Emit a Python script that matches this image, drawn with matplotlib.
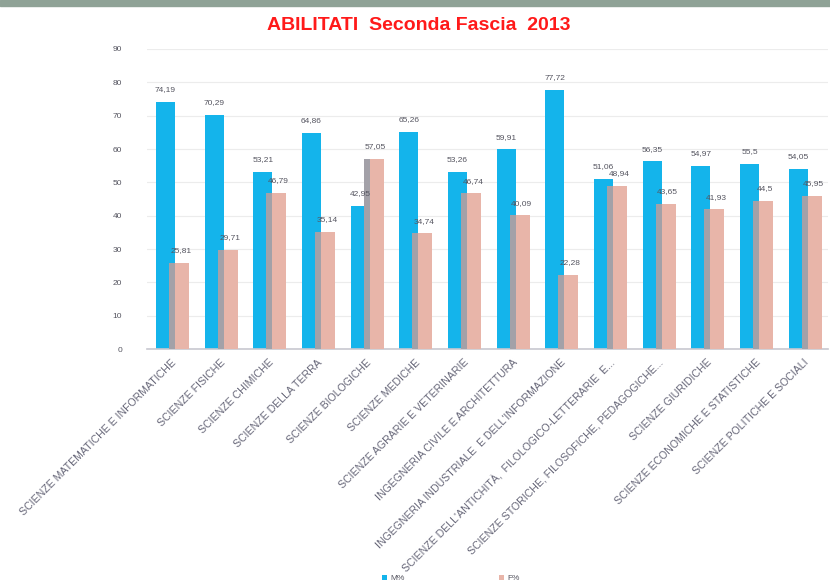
import matplotlib.pyplot as plt
import numpy as np
from matplotlib.patches import Rectangle

categories = [
    "SCIENZE MATEMATICHE E INFORMATICHE",
    "SCIENZE FISICHE",
    "SCIENZE CHIMICHE",
    "SCIENZE DELLA TERRA",
    "SCIENZE BIOLOGICHE",
    "SCIENZE MEDICHE",
    "SCIENZE AGRARIE E VETERINARIE",
    "INGEGNERIA CIVILE E ARCHITETTURA",
    "INGEGNERIA INDUSTRIALE  E DELL'INFORMAZIONE",
    "SCIENZE DELL'ANTICHITÀ,  FILOLOGICO-LETTERARIE  E...",
    "SCIENZE STORICHE, FILOSOFICHE, PEDAGOGICHE...",
    "SCIENZE GIURIDICHE",
    "SCIENZE ECONOMICHE E STATISTICHE",
    "SCIENZE POLITICHE E SOCIALI",
]
m_pct = [74.19, 70.29, 53.21, 64.86, 42.95, 65.26, 53.26, 59.91, 77.72, 51.06, 56.35, 54.97, 55.5, 54.05]
f_pct = [25.81, 29.71, 46.79, 35.14, 57.05, 34.74, 46.74, 40.09, 22.28, 48.94, 43.65, 41.93, 44.5, 45.95]
y_ticks = list(range(0, 91, 10))

blue = "#14b4eb"
pink = "#e8b5a9"
shade = "#a3a1a8"
txt = "#555560"
tick_txt = "#666678"

plt.rcParams["font.family"] = ["Liberation Sans", "DejaVu Sans"]

fig = plt.figure(figsize=(8.3, 5.83), dpi=100)
ax = fig.add_axes([0.177, 0.401, 0.821, 0.515])

# top banner
fig.patches.append(Rectangle((0, 0.99), 1, 0.01, transform=fig.transFigure,
                             color="#8fa296", zorder=0))

x = np.arange(len(categories))
ax.bar(x - 0.315, m_pct, width=0.39, align="edge", color=blue, label="M%", zorder=2)
ax.bar(x - 0.045, f_pct, width=0.13, align="edge", color=shade, zorder=3)
ax.bar(x + 0.075, f_pct, width=0.29, align="edge", color=pink, label="F%", zorder=3)

def fmt(v):
    s = ("%.2f" % v).rstrip("0").rstrip(".")
    return s.replace(".", ",")

for xi, m, f in zip(x, m_pct, f_pct):
    ax.text(xi - 0.12, m + 2.6, fmt(m), ha="center", va="bottom", fontsize=6, color=txt)
    ax.text(xi + 0.2, f + 2.6, fmt(f), ha="center", va="bottom", fontsize=6, color=txt)

ax.set_xlim(-0.5, len(categories) - 0.5)
ax.set_ylim(0, 90)
ax.set_yticks(y_ticks)
ax.tick_params(axis="y", length=0, labelsize=6, labelcolor=txt, pad=18)
ax.set_xticks(x)
ax.set_xticklabels(categories, rotation=45, ha="right", rotation_mode="anchor",
                   fontsize=7.6, color=tick_txt)
ax.tick_params(axis="x", length=0, pad=6)
ax.grid(axis="y", color="#ececec", linewidth=0.8, zorder=0)
for s in ["top", "right", "left"]:
    ax.spines[s].set_visible(False)
ax.spines["bottom"].set_color("#c8c8d0")
ax.spines["bottom"].set_linewidth(1.2)

fig.text(0.504, 0.957, "ABILITATI  Seconda Fascia  2013", ha="center", va="center",
         fontsize=14, fontweight="bold", color="#ff1a1a",
         family=["Liberation Sans Narrow", "Liberation Sans", "DejaVu Sans"])

fig.legend(loc="lower center", bbox_to_anchor=(0.543, -0.012), ncol=2, frameon=False,
           fontsize=6, labelcolor=txt, handlelength=0.6, handleheight=0.6,
           columnspacing=11.3, handletextpad=0.4)

fig.savefig("out.png", dpi=100, facecolor="white")
